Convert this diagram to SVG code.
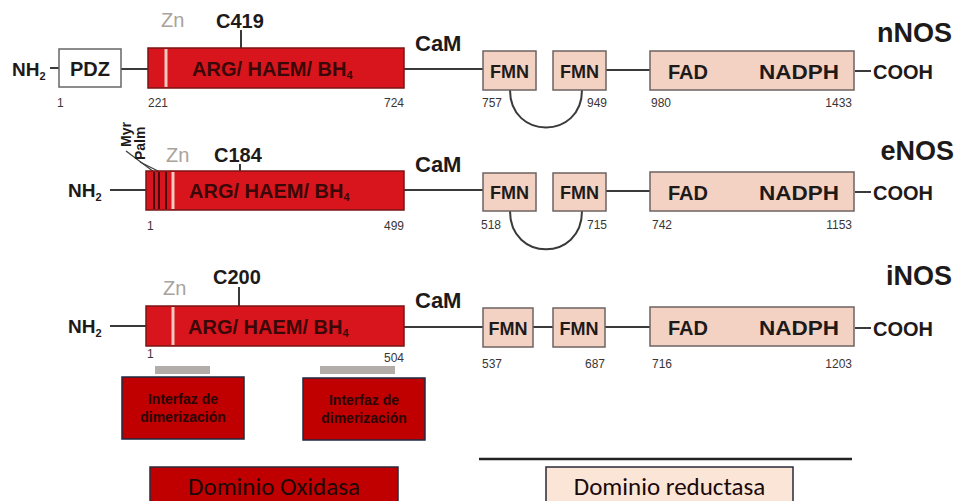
<svg xmlns="http://www.w3.org/2000/svg" width="962" height="501" viewBox="0 0 962 501">
<defs>
<style>
.b{font-family:"Liberation Sans",Arial,sans-serif;font-weight:bold;fill:#1e1a1a}
.num{font-family:"Liberation Sans",Arial,sans-serif;font-size:12px;fill:#3a3535}
.zn{font-family:"Liberation Sans",Arial,sans-serif;font-size:20px;fill:#aaa29c}
.ox{fill:#d8151c;stroke:#7a1515;stroke-width:1.5}
.oxt{font-family:"Liberation Sans",Arial,sans-serif;font-weight:bold;font-size:20px}
.red{fill:#f3d2c3;stroke:#6e6360;stroke-width:1.5}
.ln{stroke:#3a3a3a;stroke-width:2;fill:none}
.pale{stroke:#f2c9bf;stroke-width:3}
.dk{stroke:#4a0a10;stroke-width:2}
.ifz{fill:#c00000;stroke:#1f2a44;stroke-width:1.5}
.ifzt{font-family:"Liberation Sans",Arial,sans-serif;font-weight:bold;font-size:14px;text-anchor:middle}
.dom{font-family:"Carlito","Open Sans","Liberation Sans",sans-serif;font-size:25px;text-anchor:middle}
</style>
<linearGradient id="rg" x1="0" x2="1" y1="0" y2="0">
<stop offset="0" stop-color="#c0101a"/>
<stop offset="0.5" stop-color="#e0602a"/>
<stop offset="1" stop-color="#c0101a"/>
</linearGradient>
</defs>
<rect width="962" height="501" fill="#ffffff"/>

<g id="connectors">
<line class="ln" x1="50" y1="68" x2="59" y2="68"/>
<line class="ln" x1="121" y1="69" x2="148" y2="69"/>
<line class="ln" x1="404" y1="69" x2="483" y2="69"/>
<line class="ln" x1="606" y1="70" x2="650" y2="70"/>
<line class="ln" x1="855" y1="71" x2="871" y2="71"/>
<path class="ln" d="M510,90 C510,140 582,140 582,90"/>
<line class="ln" x1="110" y1="190" x2="146" y2="190"/>
<line class="ln" x1="404" y1="190" x2="483" y2="190"/>
<line class="ln" x1="606" y1="191" x2="650" y2="191"/>
<line class="ln" x1="855" y1="192" x2="871" y2="192"/>
<path class="ln" d="M510,211 C510,262 582,262 582,211"/>
<line class="ln" x1="110" y1="326" x2="146" y2="326"/>
<line class="ln" x1="404" y1="327" x2="483" y2="327"/>
<line class="ln" x1="533" y1="327" x2="553" y2="327"/>
<line class="ln" x1="605" y1="327" x2="650" y2="327"/>
<line class="ln" x1="855" y1="328" x2="871" y2="328"/>
<line class="ln" x1="241" y1="30" x2="241" y2="48"/>
<line class="ln" x1="240" y1="164" x2="240" y2="171"/>
<line class="ln" x1="239" y1="287" x2="239" y2="306"/>
<line stroke="#3a3a3a" stroke-width="1.2" x1="126" y1="151" x2="154" y2="172"/>
<line stroke="#3a3a3a" stroke-width="1.2" x1="140" y1="162" x2="160" y2="172"/>
</g>

<g id="nNOS">
<text class="b" x="12" y="76" font-size="19">NH<tspan font-size="11" dy="4">2</tspan></text>
<g id="nNOS-PDZ"><rect x="59" y="49" width="62" height="38" fill="#fff" stroke="#666" stroke-width="1.5"/><text class="b" x="90" y="76" font-size="20" text-anchor="middle">PDZ</text></g>
<g id="nNOS-ox"><rect class="ox" x="148" y="48" width="256" height="40"/><line class="pale" x1="166" y1="49" x2="166" y2="87"/>
<text class="oxt" x="192" y="76" fill="#3a0808">ARG/ HAEM/ BH<tspan font-size="11" dy="3">4</tspan></text></g>
<text class="zn" x="161" y="27">Zn</text>
<text class="b" x="216" y="28" font-size="20">C419</text>
<text class="num" x="57" y="107">1</text>
<text class="num" x="148" y="107">221</text>
<text class="num" x="404" y="107" text-anchor="end">724</text>
<text class="b" x="415" y="51" font-size="22">CaM</text>
<g id="nNOS-FMN1"><rect class="red" x="483" y="51" width="53" height="39"/><text class="b" x="509.5" y="78" font-size="18" text-anchor="middle">FMN</text></g>
<g id="nNOS-FMN2"><rect class="red" x="553" y="51" width="53" height="39"/><text class="b" x="579.5" y="78" font-size="18" text-anchor="middle">FMN</text></g>
<g id="nNOS-FAD"><rect class="red" x="650" y="51" width="204" height="39"/><text class="b" x="668" y="79" font-size="20">FAD</text><text class="b" x="759" y="79" font-size="21" textLength="80" lengthAdjust="spacingAndGlyphs">NADPH</text></g>
<text class="num" x="482" y="107">757</text>
<text class="num" x="607" y="107" text-anchor="end">949</text>
<text class="num" x="651" y="107">980</text>
<text class="num" x="852" y="107" text-anchor="end">1433</text>
<text class="b" x="873" y="79" font-size="20">COOH</text>
<text class="b" x="952" y="42" font-size="27" text-anchor="end">nNOS</text>
</g>

<g id="eNOS">
<text class="b" x="68" y="197" font-size="19">NH<tspan font-size="11" dy="4">2</tspan></text>
<g id="eNOS-ox"><rect class="ox" x="146" y="171" width="258" height="39"/>
<line class="dk" x1="154" y1="172" x2="154" y2="209"/><line class="dk" x1="159" y1="172" x2="159" y2="209"/><line class="dk" x1="166" y1="172" x2="166" y2="209"/><line class="pale" x1="173" y1="172" x2="173" y2="209"/>
<text class="oxt" x="189" y="198" fill="#3a0808">ARG/ HAEM/ BH<tspan font-size="11" dy="3">4</tspan></text></g>
<text class="b" font-size="14" transform="translate(131,147) rotate(-90)">Myr</text>
<text class="b" font-size="14" transform="translate(145,160) rotate(-90)">Palm</text>
<text class="zn" x="166" y="162">Zn</text>
<text class="b" x="214" y="162" font-size="20">C184</text>
<text class="num" x="147" y="230">1</text>
<text class="num" x="404" y="230" text-anchor="end">499</text>
<text class="b" x="415" y="172" font-size="22">CaM</text>
<g id="eNOS-FMN1"><rect class="red" x="483" y="173" width="53" height="38"/><text class="b" x="509.5" y="199" font-size="18" text-anchor="middle">FMN</text></g>
<g id="eNOS-FMN2"><rect class="red" x="553" y="173" width="53" height="38"/><text class="b" x="579.5" y="199" font-size="18" text-anchor="middle">FMN</text></g>
<g id="eNOS-FAD"><rect class="red" x="650" y="172" width="204" height="39"/><text class="b" x="668" y="200" font-size="20">FAD</text><text class="b" x="759" y="200" font-size="21" textLength="80" lengthAdjust="spacingAndGlyphs">NADPH</text></g>
<text class="num" x="481" y="229">518</text>
<text class="num" x="607" y="229" text-anchor="end">715</text>
<text class="num" x="652" y="229">742</text>
<text class="num" x="852" y="229" text-anchor="end">1153</text>
<text class="b" x="873" y="200" font-size="20">COOH</text>
<text class="b" x="954" y="160" font-size="27" text-anchor="end">eNOS</text>
</g>

<g id="iNOS">
<text class="b" x="68" y="333" font-size="19">NH<tspan font-size="11" dy="4">2</tspan></text>
<g id="iNOS-ox"><rect class="ox" x="146" y="306" width="258" height="40"/><line class="pale" x1="173" y1="307" x2="173" y2="345"/>
<text class="oxt" x="188" y="334" fill="#3a0808">ARG/ HAEM/ BH<tspan font-size="11" dy="3">4</tspan></text></g>
<text class="zn" x="163" y="295">Zn</text>
<text class="b" x="213" y="284" font-size="20">C200</text>
<text class="num" x="147" y="358">1</text>
<text class="num" x="404" y="362" text-anchor="end">504</text>
<text class="b" x="415" y="308" font-size="22">CaM</text>
<g id="iNOS-FMN1"><rect class="red" x="483" y="308" width="50" height="39"/><text class="b" x="508" y="335" font-size="18" text-anchor="middle">FMN</text></g>
<g id="iNOS-FMN2"><rect class="red" x="553" y="308" width="52" height="39"/><text class="b" x="579" y="335" font-size="18" text-anchor="middle">FMN</text></g>
<g id="iNOS-FAD"><rect class="red" x="650" y="307" width="204" height="39"/><text class="b" x="668" y="335" font-size="20">FAD</text><text class="b" x="759" y="335" font-size="21" textLength="80" lengthAdjust="spacingAndGlyphs">NADPH</text></g>
<text class="num" x="482" y="368">537</text>
<text class="num" x="605" y="368" text-anchor="end">687</text>
<text class="num" x="652" y="368">716</text>
<text class="num" x="852" y="368" text-anchor="end">1203</text>
<text class="b" x="873" y="336" font-size="20">COOH</text>
<text class="b" x="952" y="285" font-size="27" text-anchor="end">iNOS</text>
</g>

<g id="dimer-bars">
<rect x="155" y="366" width="55" height="8" fill="#b3adaa"/>
<rect x="320" y="366" width="75" height="8" fill="#b3adaa"/>
</g>
<g id="interfaz-1"><rect class="ifz" x="122" y="377" width="122" height="62"/><text class="ifzt" x="183" y="404" fill="#2a0606">Interfaz de</text><text class="ifzt" x="183" y="422" fill="#2a0606">dimerización</text></g>
<g id="interfaz-2"><rect class="ifz" x="303" y="378" width="122" height="62"/><text class="ifzt" x="364" y="405" fill="#2a0606">Interfaz de</text><text class="ifzt" x="364" y="423" fill="#2a0606">dimerización</text></g>

<line x1="153" y1="457" x2="400" y2="457" stroke="url(#rg)" stroke-width="2.5"/>
<line x1="479" y1="459" x2="852" y2="459" stroke="#222" stroke-width="2.5"/>

<g id="dominio-oxidasa"><rect x="150" y="467" width="248" height="36" fill="#c00000" stroke="#2a2a3a" stroke-width="1.5"/><text class="dom" x="274" y="495" fill="#1a0a0a">Dominio Oxidasa</text></g>
<g id="dominio-reductasa"><rect x="546" y="467" width="247" height="36" fill="#fbe5d6" stroke="#2a2a3a" stroke-width="1.5"/><text class="dom" x="669.5" y="495" fill="#1a0a0a">Dominio reductasa</text></g>
</svg>
